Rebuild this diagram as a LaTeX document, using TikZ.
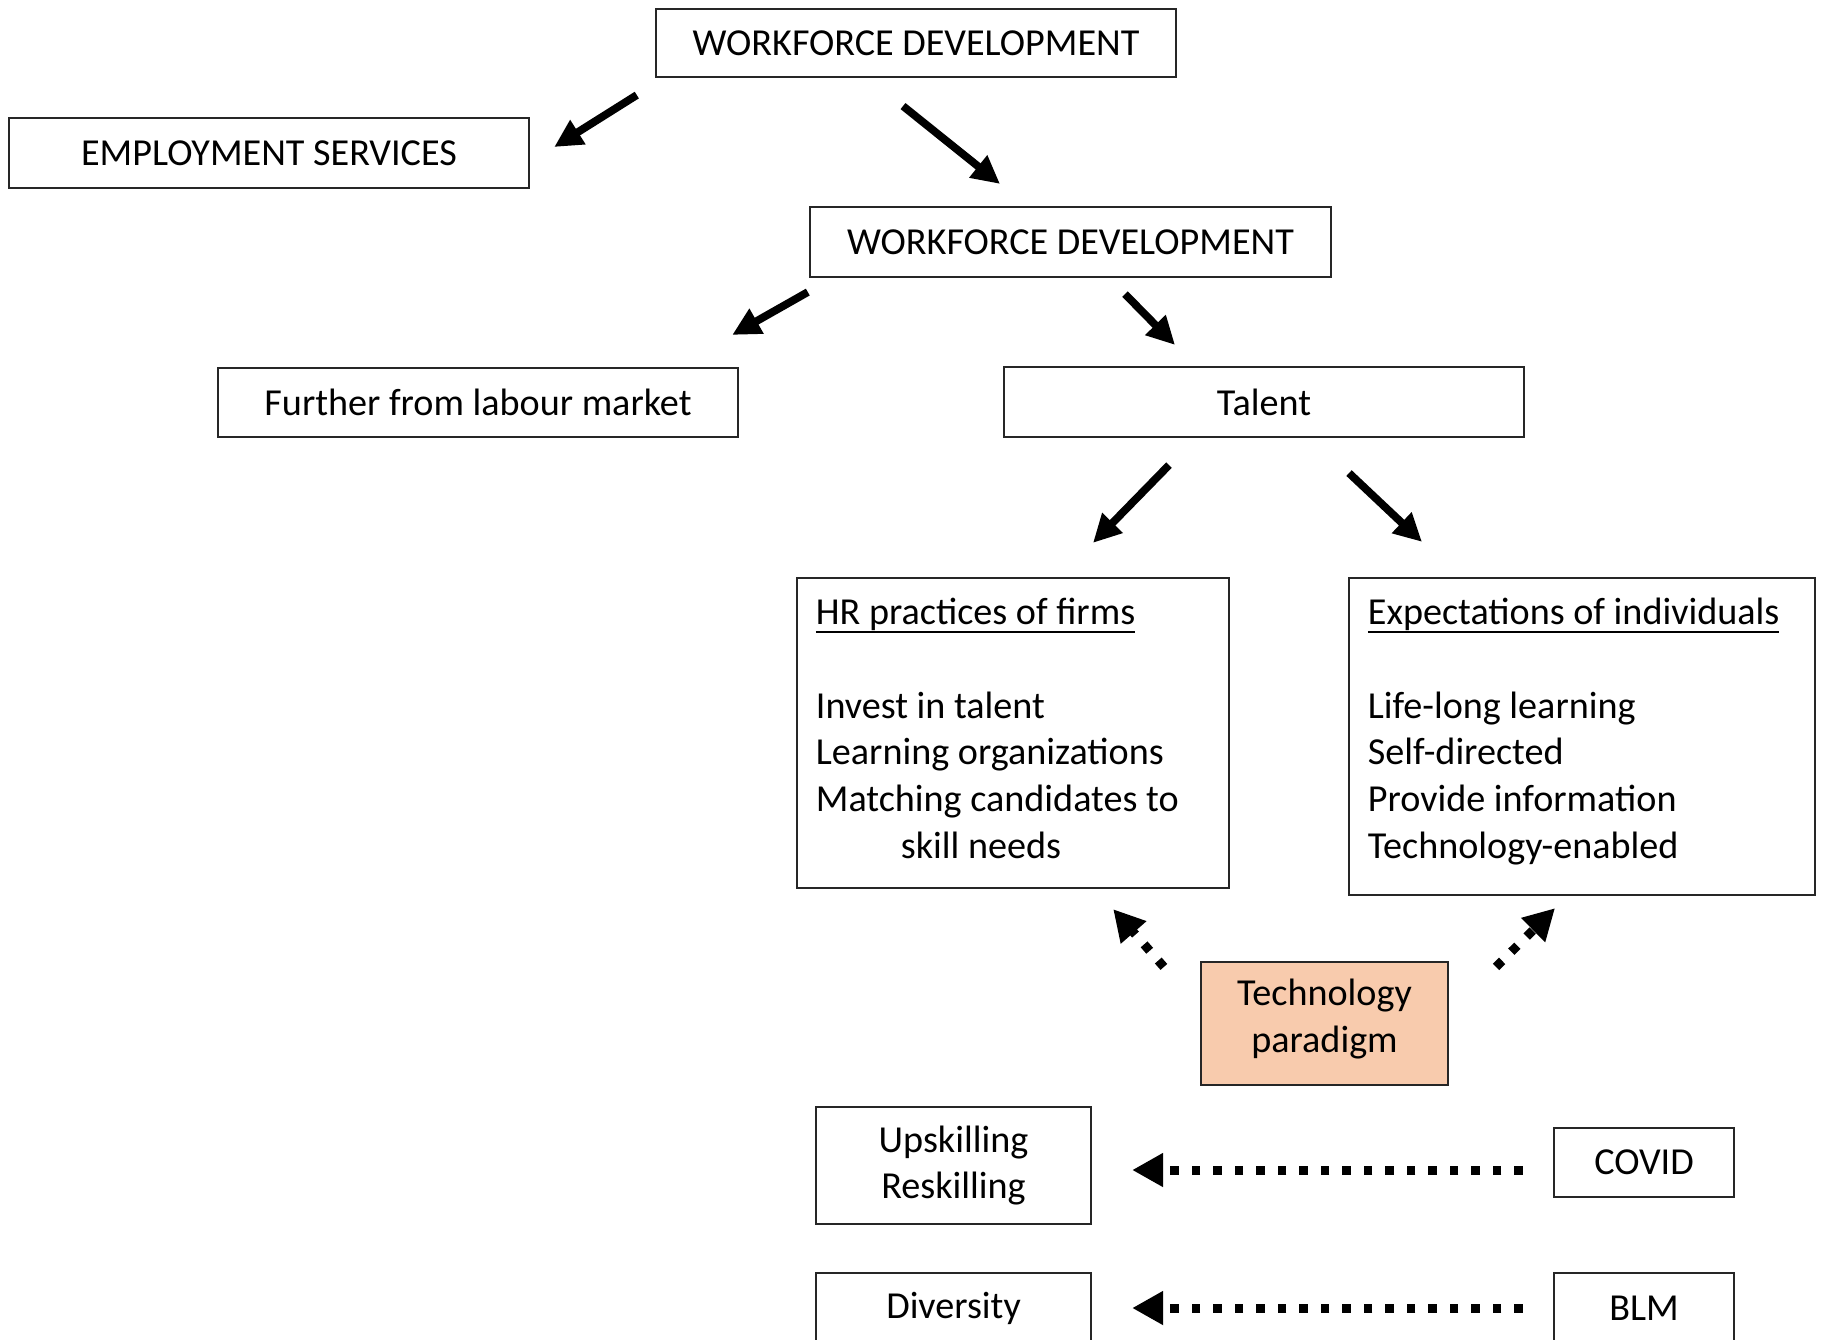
\documentclass[tikz,border=0pt]{standalone}
\usepackage{fontspec}
\setmainfont{Carlito}
\usetikzlibrary{positioning, arrows.meta}

\definecolor{techfill}{HTML}{F8CBAD}

% underline at a fixed depth, through the descenders
\newcommand{\ultext}[1]{\setbox0\hbox{#1}\rlap{\rule[-2.4pt]{\wd0}{0.7pt}}\box0}
% extra depth below the last line, lifts a block a little
\newcommand{\liftby}[1]{\rule[-#1]{0pt}{0pt}}

\tikzset{
    box/.style={draw=black!85, line width=0.6pt, inner sep=0pt, align=center,
        font=\fontsize{10.85}{13.3}\selectfont},
    listbox/.style={box, align=flush left, inner xsep=0.19cm, text width=#1},
    solidarrow/.style={line width=0.078cm, -{Triangle[length=0.28cm, width=0.27cm]}},
    dotarrow/.style={line width=0.09cm, dash pattern=on 0.085cm off 0.13cm,
        -{Triangle[length=0.31cm, width=0.32cm]}},
}

\begin{document}
\begin{tikzpicture}[x=0.01cm, y=-0.01cm]

\useasboundingbox (0,0) rectangle (1828,1339);

% Top levels
\node[box, minimum width=5.2cm, minimum height=0.68cm] (wdtop) at (916,43) {WORKFORCE DEVELOPMENT};
\node[box, minimum width=5.2cm, minimum height=0.7cm] (empl) at (269,153) {EMPLOYMENT SERVICES};
\node[box, minimum width=5.21cm, minimum height=0.7cm] (wdmid) at (1070.5,242) {WORKFORCE DEVELOPMENT};
\node[box, minimum width=5.2cm, minimum height=0.69cm] (further) at (478,402.5) {Further from labour market};
\node[box, minimum width=5.2cm, minimum height=0.7cm] (talent) at (1264,402) {Talent};

% Talent branches
\node[listbox=3.94cm, minimum height=3.1cm] (hr) at (1013,733) {\ultext{HR practices of firms}\\[13.3pt]
    Invest in talent\\
    Learning organizations\\
    Matching candidates to\\
    \hspace*{0.85cm}skill needs\liftby{0.095cm}};
\node[listbox=4.28cm, minimum height=3.17cm] (expect) at (1582,736.5) {\ultext{Expectations of individuals}\\[13.3pt]
    Life-long learning\\
    Self-directed\\
    Provide information\\
    Technology-enabled\liftby{0.165cm}};
\node[box, fill=techfill, minimum width=2.47cm, minimum height=1.23cm] (tech) at (1324.5,1023.5) {Technology\\paradigm\liftby{0.15cm}};

% Drivers
\node[box, minimum width=2.75cm, minimum height=1.17cm] (upskill) at (953.5,1165.5) {Upskilling\\Reskilling};
\node[box, minimum width=1.8cm, minimum height=0.69cm] (covid) at (1644,1162.5) {COVID};
\node[box, minimum width=2.75cm, minimum height=0.7cm] (divers) at (953.5,1308) {Diversity};
\node[box, minimum width=1.8cm, minimum height=0.7cm] (blm) at (1644,1308) {BLM};

% Solid arrows
\draw[solidarrow] ([shift={(-18,17)}]wdtop.south west) -- ([shift={(24,-6)}]empl.east);
\draw[solidarrow] ([shift={(-13,28)}]wdtop.south) -- ([shift={(-70.5,-22)}]wdmid.north);
\draw[solidarrow] ([shift={(-1,14)}]wdmid.south west) -- ([shift={(-7,-32)}]further.north east);
\draw[solidarrow] ([shift={(54.5,16)}]wdmid.south) -- ([shift={(-89,-21)}]talent.north);
\draw[solidarrow] ([shift={(-95,27)}]talent.south) -- ([shift={(80,-34)}]hr.north);
\draw[solidarrow] ([shift={(85,35)}]talent.south) -- ([shift={(-160,-35)}]expect.north);

% Dotted arrows
\draw[dotarrow] ([shift={(-36,6)}]tech.north west) -- ([shift={(-117,20)}]hr.south east);
\draw[dotarrow] ([shift={(47,6)}]tech.north east) -- ([shift={(-27,12)}]expect.south);
\draw[dotarrow] ([shift={(-30,7.5)}]covid.west) -- ([shift={(40,4.5)}]upskill.east);
\draw[dotarrow] ([shift={(-30,0)}]blm.west) -- ([shift={(40,0)}]divers.east);

\end{tikzpicture}
\end{document}
